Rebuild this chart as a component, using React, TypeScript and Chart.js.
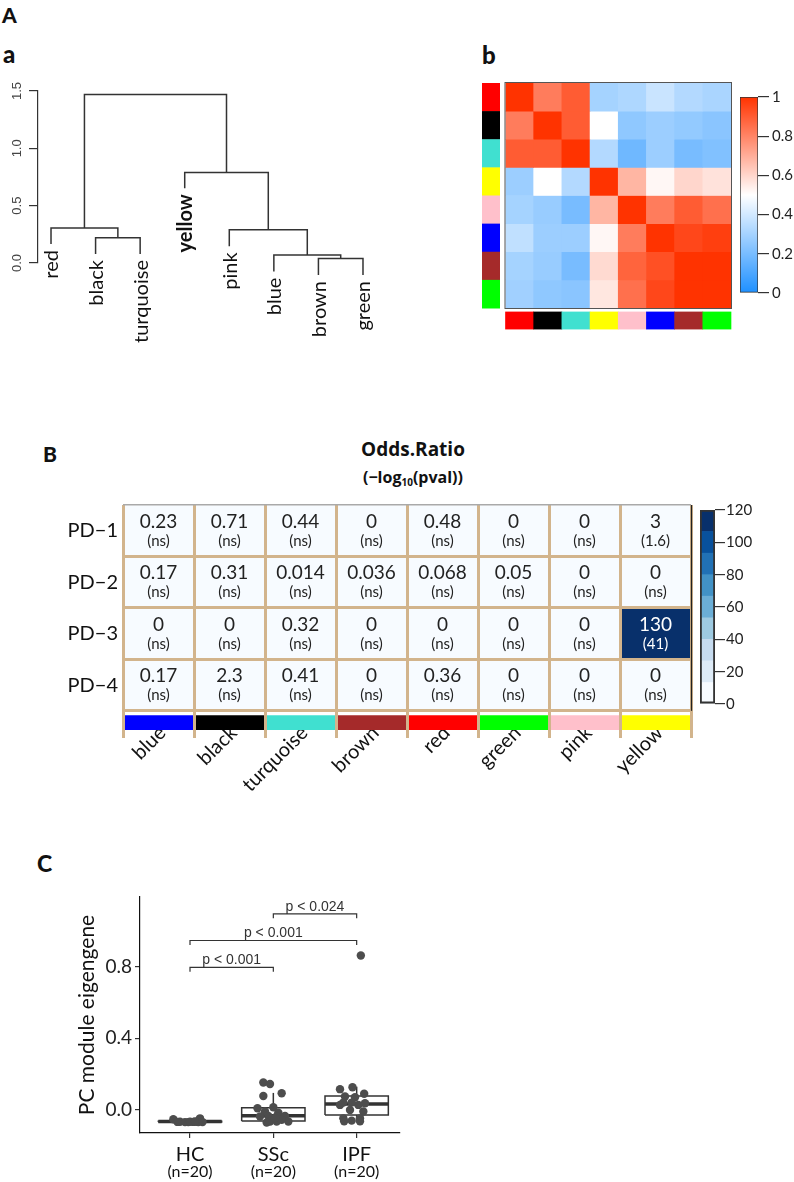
import React, { useEffect, useRef } from 'react';
import { Chart, registerables } from 'chart.js';

Chart.register(...registerables);

const FONT = 'Lato, "Noto Sans", sans-serif';
const SANS = '"Liberation Sans", Arial, sans-serif';
const WIDE = '"Open Sans", Lato, sans-serif';

// ---------------- Panel A-a : dendrogram ----------------
const leafNames = ['red', 'black', 'turquoise', 'yellow', 'pink', 'blue', 'brown', 'green'];
const leafBottoms = [0.165, 0.078, 0.078, 0.652, 0.145, -0.075, -0.105, -0.105];
// R-style merge table: negative = leaf (1-based), positive = earlier merge
const mergeLeft = [-2, -1, -7, -6, -5, -4, 2];
const mergeRight = [-3, 1, -8, 3, 4, 5, 6];
const mergeHeights = [0.22, 0.305, 0.04, 0.07, 0.29, 0.79, 1.47];
const dendroTicks = [0, 0.5, 1.0, 1.5];

// ---------------- Panel A-b : module correlation heatmap ----------------
const modules = ['red', 'black', 'turquoise', 'yellow', 'pink', 'blue', 'brown', 'green'];
const moduleColors = ['#FF0000', '#000000', '#40E0D0', '#FFFF00', '#FFC0CB', '#0000FF', '#A52A2A', '#00FF00'];
const corrRed = [1.0, 0.82, 0.9, 0.3, 0.32, 0.38, 0.33, 0.31];
const corrBlack = [0.82, 1.0, 0.9, 0.5, 0.25, 0.28, 0.26, 0.24];
const corrTurquoise = [0.9, 0.9, 1.0, 0.33, 0.18, 0.28, 0.2, 0.22];
const corrYellow = [0.28, 0.5, 0.33, 1.0, 0.68, 0.52, 0.6, 0.57];
const corrPink = [0.3, 0.27, 0.2, 0.68, 1.0, 0.82, 0.9, 0.85];
const corrBlue = [0.36, 0.28, 0.28, 0.52, 0.82, 1.0, 0.95, 0.97];
const corrBrown = [0.3, 0.27, 0.2, 0.59, 0.88, 0.93, 1.0, 1.0];
const corrGreen = [0.29, 0.25, 0.24, 0.56, 0.85, 0.95, 1.0, 1.0];
const corrTicks = [0, 0.2, 0.4, 0.6, 0.8, 1];

// ---------------- Panel B : odds ratio table ----------------
const pdRows = ['PD\u22121', 'PD\u22122', 'PD\u22123', 'PD\u22124'];
const orModules = ['blue', 'black', 'turquoise', 'brown', 'red', 'green', 'pink', 'yellow'];
const orModuleColors = ['#0000FF', '#000000', '#40E0D0', '#A52A2A', '#FF0000', '#00FF00', '#FFC0CB', '#FFFF00'];
const orPD1 = [0.23, 0.71, 0.44, 0, 0.48, 0, 0, 3];
const orPD2 = [0.17, 0.31, 0.014, 0.036, 0.068, 0.05, 0, 0];
const orPD3 = [0, 0, 0.32, 0, 0, 0, 0, 130];
const orPD4 = [0.17, 2.3, 0.41, 0, 0.36, 0, 0, 0];
const logpPD1 = [null, null, null, null, null, null, null, 1.6];
const logpPD2 = [null, null, null, null, null, null, null, null];
const logpPD3 = [null, null, null, null, null, null, null, 41];
const logpPD4 = [null, null, null, null, null, null, null, null];
const orBinEdges = [0, 13.3, 26.7, 40, 53.3, 66.7, 80, 93.3, 106.7, 120];
const blues = ['#F7FBFF', '#DEEBF7', '#C6DBEF', '#9ECAE1', '#6BAED6', '#4292C6', '#2171B5', '#08519C', '#08306B'];
const orTicks = [0, 20, 40, 60, 80, 100, 120];

// ---------------- Panel C : box plot ----------------
const groups = ['HC', 'SSc', 'IPF'];
const groupN = ['(n=20)', '(n=20)', '(n=20)'];
const boxQ1 = [-0.067, -0.062, -0.028];
const boxMedian = [-0.065, -0.033, 0.033];
const boxQ3 = [-0.063, 0.012, 0.078];
const whiskerLow = [-0.068, -0.07, -0.065];
const whiskerHigh = [-0.05, 0.095, 0.13];
const hcValues = [-0.052, -0.066, -0.068, -0.068, -0.067, -0.066, -0.047, -0.068, -0.068, -0.067, -0.066, -0.064];
const hcJitter = [-0.2, -0.12, -0.06, -0.02, 0.04, 0.08, 0.12, 0.15, 0.1, -0.15, 0.0, 0.06];
const sscValues = [0.153, 0.145, 0.078, 0.093, 0.009, 0.015, -0.009, -0.015, -0.034, -0.037, -0.034, -0.037, -0.065, -0.065, -0.065, -0.07, -0.055, -0.045];
const sscJitter = [-0.12, -0.04, -0.12, 0.1, -0.19, 0.0, -0.1, 0.06, -0.06, 0.04, 0.14, -0.16, -0.04, 0.04, 0.18, -0.08, 0.1, 0.02];
const ipfValues = [0.116, 0.127, 0.09, 0.075, 0.071, 0.041, 0.041, 0.037, 0.028, 0.028, 0.0, -0.009, -0.047, -0.047, -0.06, -0.063, -0.063, 0.863];
const ipfJitter = [-0.2, -0.05, 0.09, -0.14, -0.02, -0.16, -0.06, 0.1, -0.2, 0.02, -0.08, 0.08, -0.16, 0.04, -0.06, -0.15, 0.04, 0.05];
const bracketFrom = [1, 1, 2];
const bracketTo = [2, 3, 3];
const bracketY = [0.797, 0.947, 1.096];
const bracketLabels = ['p < 0.001', 'p < 0.001', 'p < 0.024'];
const cTicks = [0, 0.4, 0.8];

// ---------------- helpers ----------------
function corrColor(v: number) {
  const lo = [30, 144, 255];
  const mid = [255, 255, 255];
  const hi = [255, 51, 0];
  let a = lo, b = mid, t = v / 0.5;
  if (v >= 0.5) { a = mid; b = hi; t = (v - 0.5) / 0.5; }
  const c = a.map((x, i) => Math.round(x + (b[i] - x) * t));
  return `rgb(${c[0]},${c[1]},${c[2]})`;
}
function orBin(v: number) {
  for (let i = 0; i < blues.length; i++) {
    if (v < orBinEdges[i + 1]) return i;
  }
  return blues.length - 1;
}

const baseOptions = {
  animation: false,
  responsive: false,
  maintainAspectRatio: false,
  events: [],
  plugins: { legend: { display: false }, tooltip: { enabled: false } },
};

function ChartCanvas(props: any) {
  const { left, top, width, height, make } = props;
  const ref = useRef<HTMLCanvasElement>(null);
  useEffect(() => {
    const chart = new Chart(ref.current as HTMLCanvasElement, make());
    return () => chart.destroy();
  }, []);
  return (
    <canvas
      ref={ref}
      width={width}
      height={height}
      style={{ position: 'absolute', left, top, width, height }}
    />
  );
}

// ---------------- configs ----------------
function dendroConfig(): any {
  const mergeX: number[] = [];
  const nodeX = (n: number) => (n < 0 ? -n : mergeX[n - 1]);
  const nodeBottom = (n: number) => (n < 0 ? leafBottoms[-n - 1] : mergeHeights[n - 1]);
  mergeLeft.forEach((l, i) => mergeX.push((nodeX(l) + nodeX(mergeRight[i])) / 2));
  const datasets = mergeLeft.map((l, i) => {
    const r = mergeRight[i];
    const h = mergeHeights[i];
    return {
      data: [
        { x: nodeX(l), y: nodeBottom(l) },
        { x: nodeX(l), y: h },
        { x: nodeX(r), y: h },
        { x: nodeX(r), y: nodeBottom(r) },
      ],
      showLine: true,
      borderColor: '#333',
      borderWidth: 1.5,
      pointRadius: 0,
      tension: 0,
      fill: false,
      clip: false,
    };
  });
  const leafLabels = {
    id: 'leafLabels',
    afterDatasetsDraw(chart: any) {
      const { ctx, scales } = chart;
      leafNames.forEach((name, i) => {
        const px = scales.x.getPixelForValue(i + 1);
        const py = scales.y.getPixelForValue(leafBottoms[i]);
        ctx.save();
        ctx.translate(px + 1, py + 6);
        ctx.rotate(-Math.PI / 2);
        ctx.font = (name === 'yellow' ? 'bold ' : '') + '20px ' + FONT;
        ctx.textAlign = 'right';
        ctx.textBaseline = 'middle';
        ctx.fillStyle = '#111';
        ctx.fillText(name, 0, 0);
        ctx.restore();
      });
    },
  };
  return {
    type: 'scatter',
    data: { datasets },
    plugins: [leafLabels],
    options: {
      ...baseOptions,
      layout: { padding: { top: 31, bottom: 97, left: 0, right: 10 } },
      scales: {
        x: { type: 'linear', min: 0.708, max: 8.606, display: false },
        y: {
          type: 'linear',
          min: 0,
          max: 1.5,
          afterBuildTicks: (s: any) => { s.ticks = dendroTicks.map((v) => ({ value: v })); },
          afterFit: (s: any) => { s.width = 38; },
          border: { display: true, color: '#333', width: 1.2 },
          grid: { display: true, drawOnChartArea: false, drawTicks: true, tickLength: 9, color: '#333', lineWidth: 1.2 },
          ticks: {
            minRotation: 90,
            maxRotation: 90,
            crossAlign: 'center',
            padding: 3,
            color: '#444',
            font: { family: SANS, size: 13 },
            callback: (v: any) => Number(v).toFixed(1),
          },
        },
      },
    },
  };
}

function corrConfig(): any {
  const matrix = [corrRed, corrBlack, corrTurquoise, corrYellow, corrPink, corrBlue, corrBrown, corrGreen];
  const datasets: any[] = matrix.map((row, r) => ({
    data: row.map(() => [r, r + 1]),
    backgroundColor: row.map(corrColor),
    grouped: false,
    barPercentage: 1,
    categoryPercentage: 1,
    borderWidth: 0,
  }));
  datasets.push({
    data: modules.map(() => [8.14, 8.75]),
    backgroundColor: moduleColors,
    grouped: false,
    barPercentage: 1,
    categoryPercentage: 1,
    borderWidth: 0,
    clip: false,
  });
  const strips = {
    id: 'rowStrip',
    afterDatasetsDraw(chart: any) {
      const { ctx, chartArea: a, scales } = chart;
      ctx.save();
      moduleColors.forEach((c, r) => {
        const y0 = scales.y.getPixelForValue(r);
        const y1 = scales.y.getPixelForValue(r + 1);
        ctx.fillStyle = c;
        ctx.fillRect(a.left - 23.5, y0, 18, y1 - y0 + 0.5);
      });
      ctx.strokeStyle = '#555';
      ctx.lineWidth = 1;
      ctx.strokeRect(a.left - 0.5, a.top - 0.5, a.right - a.left + 1, a.bottom - a.top + 1);
      ctx.restore();
    },
  };
  return {
    type: 'bar',
    data: { labels: modules, datasets },
    plugins: [strips],
    options: {
      ...baseOptions,
      layout: { padding: { left: 35.5, right: 1, top: 13, bottom: 32 } },
      scales: {
        x: { type: 'category', display: false },
        y: { type: 'linear', min: 0, max: 8, reverse: true, display: false },
      },
    },
  };
}

function corrBarConfig(): any {
  return {
    type: 'bar',
    data: {
      labels: [''],
      datasets: [
        {
          data: [[0, 1]],
          backgroundColor: (c: any) => {
            const a = c.chart.chartArea;
            if (!a) return '#fff';
            const g = c.chart.ctx.createLinearGradient(0, a.bottom, 0, a.top);
            g.addColorStop(0, corrColor(0));
            g.addColorStop(0.5, corrColor(0.5));
            g.addColorStop(1, corrColor(1));
            return g;
          },
          borderColor: '#333',
          borderWidth: 1,
          borderSkipped: false,
          barPercentage: 1,
          categoryPercentage: 1,
        },
      ],
    },
    options: {
      ...baseOptions,
      layout: { padding: { left: 10, right: 0, top: 11, bottom: 11 } },
      scales: {
        x: { display: false },
        y: {
          position: 'right',
          min: 0,
          max: 1,
          afterBuildTicks: (s: any) => { s.ticks = corrTicks.map((v) => ({ value: v })); },
          afterFit: (s: any) => { s.width = 36; },
          border: { display: false },
          grid: { drawOnChartArea: false, drawTicks: true, tickLength: 11, color: '#333', lineWidth: 1.2 },
          ticks: { padding: 3, color: '#222', font: { family: FONT, size: 15 }, callback: (v: any) => String(v) },
        },
      },
    },
  };
}

function orConfig(): any {
  const rows = [orPD1, orPD2, orPD3, orPD4];
  const logps = [logpPD1, logpPD2, logpPD3, logpPD4];
  const datasets: any[] = rows.map((vals, r) => ({
    data: vals.map(() => [r, r + 1]),
    backgroundColor: vals.map((v) => blues[orBin(v)]),
    grouped: false,
    barPercentage: 1,
    categoryPercentage: 1,
    borderWidth: 0,
    yAxisID: 'yg',
  }));
  datasets.push({
    data: orModules.map(() => [4.093, 4.372]),
    backgroundColor: orModuleColors,
    grouped: false,
    barPercentage: 1,
    categoryPercentage: 1,
    borderWidth: 0,
    yAxisID: 'yg',
  });
  const cellText = {
    id: 'cellText',
    afterDatasetsDraw(chart: any) {
      const { ctx, scales } = chart;
      ctx.save();
      ctx.textAlign = 'center';
      ctx.textBaseline = 'middle';
      rows.forEach((vals, r) => {
        vals.forEach((v, c) => {
          const px = scales.x.getPixelForValue(c);
          const py = scales.yg.getPixelForValue(r + 0.5);
          ctx.fillStyle = orBin(v) >= 6 ? '#fff' : '#222';
          ctx.font = `19px ${FONT}`;
          ctx.fillText(String(v), px, py - 9);
          const lp = logps[r][c];
          ctx.font = `15px ${FONT}`;
          ctx.fillText(lp == null ? '(ns)' : `(${lp})`, px, py + 10);
        });
      });
      ctx.restore();
    },
    afterDraw(chart: any) {
      const { ctx, chartArea: a, scales } = chart;
      const y4 = scales.yg.getPixelForValue(4);
      ctx.save();
      ctx.strokeStyle = '#222';
      ctx.lineWidth = 1.2;
      ctx.beginPath();
      ctx.moveTo(a.right + 0.5, a.top);
      ctx.lineTo(a.right + 0.5, y4);
      ctx.stroke();
      ctx.restore();
    },
  };
  return {
    type: 'bar',
    data: { labels: orModules, datasets },
    plugins: [cellText],
    options: {
      ...baseOptions,
      layout: { padding: { top: 7, right: 9, left: 0, bottom: 0 } },
      scales: {
        x: {
          type: 'category',
          offset: true,
          afterFit: (s: any) => { s.height = 88; },
          border: { display: false },
          grid: { offset: true, color: '#D2B48C', lineWidth: 3, drawTicks: true, tickLength: 8, z: 1 },
          ticks: {
            autoSkip: false,
            minRotation: 45,
            maxRotation: 45,
            padding: -17,
            labelOffset: 4,
            color: '#111',
            font: { family: FONT, size: 20 },
          },
        },
        yg: {
          type: 'linear',
          position: 'left',
          min: 0,
          max: 4.372,
          reverse: true,
          weight: 0,
          afterBuildTicks: (s: any) => { s.ticks = [0, 1, 2, 3, 4].map((v) => ({ value: v })); },
          afterFit: (s: any) => { s.width = 0; },
          border: { display: false },
          grid: {
            drawTicks: false,
            z: 1,
            color: (c: any) => (c.tick && c.tick.value === 0 ? '#A9A9A9' : '#D2B48C'),
            lineWidth: (c: any) => (c.tick && c.tick.value === 0 ? 1.5 : 3),
          },
          ticks: { display: false },
        },
        yl: {
          type: 'linear',
          position: 'left',
          min: 0,
          max: 4.372,
          reverse: true,
          weight: 1,
          afterBuildTicks: (s: any) => { s.ticks = [0.5, 1.5, 2.5, 3.5].map((v) => ({ value: v })); },
          afterFit: (s: any) => { s.width = 83; },
          border: { display: false },
          grid: { display: false, drawTicks: false },
          ticks: { padding: 5, color: '#111', font: { family: FONT, size: 20 }, callback: (v: any) => pdRows[Math.floor(v)] },
        },
      },
    },
  };
}

function orBarConfig(): any {
  const datasets: any[] = blues.map((c, i) => ({
    data: [[orBinEdges[i], orBinEdges[i + 1]]],
    backgroundColor: c,
    grouped: false,
    barPercentage: 1,
    categoryPercentage: 1,
    borderWidth: 0,
  }));
  datasets.unshift({
    data: [[orBinEdges[0], orBinEdges[orBinEdges.length - 1]]],
    backgroundColor: 'rgba(0,0,0,0)',
    borderColor: '#333',
    borderWidth: 1.5,
    borderSkipped: false,
    grouped: false,
    barPercentage: 1,
    categoryPercentage: 1,
  });
  return {
    type: 'bar',
    data: { labels: [''], datasets },
    options: {
      ...baseOptions,
      layout: { padding: { left: 10, right: 0, top: 9, bottom: 11 } },
      scales: {
        x: { display: false },
        y: {
          position: 'right',
          min: 0,
          max: 120,
          afterBuildTicks: (s: any) => { s.ticks = orTicks.map((v) => ({ value: v })); },
          afterFit: (s: any) => { s.width = 79; },
          border: { display: false },
          grid: { drawOnChartArea: false, drawTicks: true, tickLength: 10, color: '#333', lineWidth: 1.2 },
          ticks: { padding: 1, color: '#222', font: { family: FONT, size: 15 } },
        },
      },
    },
  };
}

function boxConfig(): any {
  const pts: any[] = [];
  [hcValues, sscValues, ipfValues].forEach((vals, g) => {
    const jit = [hcJitter, sscJitter, ipfJitter][g];
    vals.forEach((v, i) => pts.push({ x: g + 1 + jit[i], y: v }));
  });
  const line = (data: any[], w: number) => ({
    data,
    showLine: true,
    borderColor: '#333',
    borderWidth: w,
    pointRadius: 0,
    tension: 0,
    fill: false,
    order: 1,
    clip: false,
  });
  const datasets: any[] = [
    {
      data: pts,
      backgroundColor: '#4D4D4D',
      borderWidth: 0,
      pointRadius: 4.2,
      order: 0,
    },
  ];
  const hw = 0.38;
  groups.forEach((_, g) => {
    const c = g + 1;
    datasets.push(line([
      { x: c - hw, y: boxQ1[g] }, { x: c + hw, y: boxQ1[g] }, { x: c + hw, y: boxQ3[g] },
      { x: c - hw, y: boxQ3[g] }, { x: c - hw, y: boxQ1[g] },
    ], 1.5));
    datasets.push(line([{ x: c - hw, y: boxMedian[g] }, { x: c + hw, y: boxMedian[g] }], 3.5));
    datasets.push(line([{ x: c, y: boxQ3[g] }, { x: c, y: whiskerHigh[g] }], 1.5));
    datasets.push(line([{ x: c, y: boxQ1[g] }, { x: c, y: whiskerLow[g] }], 1.5));
  });
  bracketFrom.forEach((f, i) => {
    const t = bracketTo[i];
    const y = bracketY[i];
    datasets.push(line([{ x: f, y: y - 0.025 }, { x: f, y }, { x: t, y }, { x: t, y: y - 0.025 }], 1.2));
  });
  const bracketText = {
    id: 'bracketText',
    afterDatasetsDraw(chart: any) {
      const { ctx, scales } = chart;
      ctx.save();
      ctx.font = `14px ${SANS}`;
      ctx.fillStyle = '#333';
      ctx.textAlign = 'center';
      ctx.textBaseline = 'alphabetic';
      bracketFrom.forEach((f, i) => {
        const px = scales.x.getPixelForValue((f + bracketTo[i]) / 2);
        const py = scales.y.getPixelForValue(bracketY[i]);
        ctx.fillText(bracketLabels[i], px, py - 3);
      });
      ctx.restore();
    },
  };
  const catTicks = (s: any) => { s.ticks = [1, 2, 3].map((v) => ({ value: v })); };
  return {
    type: 'scatter',
    data: { datasets },
    plugins: [bracketText],
    options: {
      ...baseOptions,
      layout: { padding: { top: 17, right: 10, left: 0, bottom: 0 } },
      scales: {
        x: {
          type: 'linear',
          position: 'bottom',
          min: 0.4,
          max: 3.52,
          weight: 0,
          afterBuildTicks: catTicks,
          afterFit: (s: any) => { s.height = 29; },
          border: { color: '#111', width: 1.2 },
          grid: { drawOnChartArea: false, drawTicks: true, tickLength: 5, color: '#333', lineWidth: 1.2 },
          ticks: { padding: 5, color: '#111', font: { family: FONT, size: 20 }, callback: (v: any) => groups[Math.round(v) - 1] },
        },
        x2: {
          type: 'linear',
          position: 'bottom',
          min: 0.4,
          max: 3.52,
          weight: 1,
          afterBuildTicks: catTicks,
          afterFit: (s: any) => { s.height = 18; },
          border: { display: false },
          grid: { display: false, drawTicks: false },
          ticks: { padding: 0, color: '#111', font: { family: FONT, size: 16 }, callback: (v: any) => groupN[Math.round(v) - 1] },
        },
        y: {
          type: 'linear',
          min: -0.129,
          max: 1.19,
          afterBuildTicks: (s: any) => { s.ticks = cTicks.map((v) => ({ value: v })); },
          afterFit: (s: any) => { s.width = 100; },
          border: { color: '#111', width: 1.2 },
          grid: { drawOnChartArea: false, drawTicks: true, tickLength: 5, color: '#333', lineWidth: 1.2 },
          ticks: { padding: 3, color: '#222', font: { family: FONT, size: 19 }, callback: (v: any) => Number(v).toFixed(1) },
          title: {
            display: true,
            text: 'PC module eigengene',
            color: '#111',
            font: { family: FONT, size: 21 },
            padding: { top: 35, bottom: 0 },
          },
        },
      },
    },
  };
}

const letter = (text: string, left: number, top: number, size: number) => (
  <div
    style={{
      position: 'absolute',
      left,
      top,
      fontFamily: FONT,
      fontWeight: 900,
      fontSize: size,
      lineHeight: 1,
      color: '#111',
    }}
  >
    {text}
  </div>
);

export default function App() {
  return (
    <div
      style={{
        position: 'absolute',
        left: 0,
        top: 0,
        width: 794,
        height: 1182,
        background: '#fff',
        overflow: 'hidden',
        fontFamily: FONT,
      }}
    >
      {letter('A', 2, 4, 21)}
      {letter('a', 3, 42, 24)}
      {letter('b', 482, 43, 24)}
      {letter('B', 43, 443, 21)}
      {letter('C', 37, 852, 23)}
      <div
        style={{
          position: 'absolute', left: 313, top: 440, width: 200, textAlign: 'center',
          fontFamily: WIDE, fontWeight: 700, fontSize: 19, lineHeight: 1, color: '#111',
        }}
      >
        Odds.Ratio
      </div>
      <div
        style={{
          position: 'absolute', left: 313, top: 469, width: 200, textAlign: 'center',
          fontFamily: WIDE, fontWeight: 700, fontSize: 16, lineHeight: 1, color: '#111',
        }}
      >
        (−log<sub style={{ fontSize: 10, verticalAlign: -3 }}>10</sub>(pval))
      </div>
      <ChartCanvas left={0} top={60} width={400} height={300} make={dendroConfig} />
      <ChartCanvas left={470} top={70} width={262} height={270} make={corrConfig} />
      <ChartCanvas left={730} top={85} width={64} height={220} make={corrBarConfig} />
      <ChartCanvas left={40} top={488} width={660} height={330} make={orConfig} />
      <ChartCanvas left={690} top={500} width={104} height={215} make={orBarConfig} />
      <ChartCanvas left={40} top={880} width={370} height={300} make={boxConfig} />
    </div>
  );
}
